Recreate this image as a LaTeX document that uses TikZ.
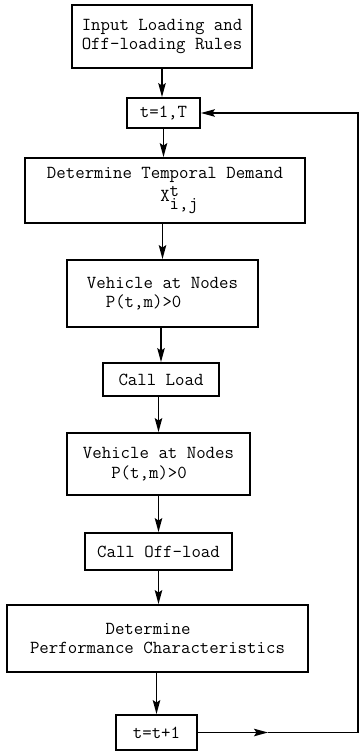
\documentclass[tikz,border=0pt]{standalone}
\usetikzlibrary{arrows.meta}
\tikzset{
  box/.style={draw, line width=1.8bp, inner sep=0pt, align=left,
    font=\ttfamily\fontsize{18.4}{19.5}\selectfont},
  arr/.style={line width=1.5bp, -{Stealth[length=14bp,width=7.5bp,inset=2.5bp]}},
  ln/.style={line width=1.5bp}
}
\begin{document}
\begin{tikzpicture}[x=1bp,y=-1bp]
\useasboundingbox (0,0) rectangle (363,753);
\node[box, minimum width=180bp, minimum height=63bp] (n1) at (162,36.5)
  {Input Loading and\\Off-loading Rules};
\node[box, minimum width=73bp, minimum height=30bp] (n2) at (163.5,113) {t=1,T};
\node[box, minimum width=280bp, minimum height=65bp] (n3) at (165,190.5)
  {Determine Temporal Demand\\[3bp]\hphantom{Determine Te}X\rlap{\raisebox{5.5bp}{t}}\raisebox{-8bp}{i,j}};
\node[box, minimum width=191bp, minimum height=67bp] (n4) at (162.5,293.5)
  {Vehicle at Nodes\\\hphantom{Ve}P(t,m)>0};
\node[box, minimum width=116bp, minimum height=33bp] (n5) at (161,379.5) {Call Load};
\node[box, minimum width=183bp, minimum height=62bp] (n6) at (158.5,464)
  {Vehicle at Nodes\\\hphantom{Veh}P(t,m)>0};
\node[box, minimum width=147bp, minimum height=37bp] (n7) at (158.5,551.5) {Call Off-load};
\node[box, minimum width=301bp, minimum height=67bp] (n8) at (157.5,638.5)
  {\hphantom{Performa}Determine\\Performance Characteristics};
\node[box, minimum width=81bp, minimum height=35bp] (n9) at (156.5,732.5) {t=t+1};
\coordinate (mid) at (268,732.5);
\coordinate (cr) at (358,732.5);
\draw[arr] (n1.south) -- (n1.south |- n2.north);
\draw[arr] (n2.south) -- (n2.south |- n3.north);
\draw[arr] (n4.north |- n3.south) -- (n4.north);
\draw[arr] (n5.north |- n4.south) -- (n5.north);
\draw[arr] (n6.north |- n5.south) -- (n6.north);
\draw[arr] (n7.north |- n6.south) -- (n7.north);
\draw[arr] (n7.south) -- (n7.south |- n8.north);
\draw[arr] (n9.north |- n8.south) -- (n9.north);
\draw[arr] (n9.east) -- (mid);
\draw[ln] (mid) -- (cr);
\draw[arr] (cr) |- (n2.east);
\end{tikzpicture}
\end{document}
